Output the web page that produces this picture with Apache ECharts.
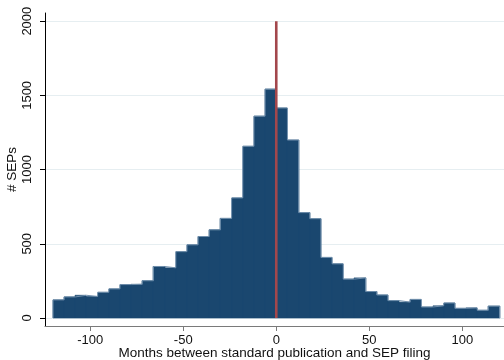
<!DOCTYPE html>
<html>
<head>
<meta charset="utf-8">
<script src="https://cdn.jsdelivr.net/npm/echarts@6/dist/echarts.min.js"></script>
<style>
  html, body { margin: 0; padding: 0; background: #fff; }
  #chart { width: 504px; height: 360px; }
</style>
</head>
<body>
<div id="chart"></div>
<script>
// histogram bins: left edge of each 6-month bin
var binStarts = [-120, -114, -108, -102, -96, -90, -84, -78, -72, -66,
                 -60, -54, -48, -42, -36, -30, -24, -18, -12, -6,
                 0, 6, 12, 18, 24, 30, 36, 42, 48, 54,
                 60, 66, 72, 78, 84, 90, 96, 102, 108, 114];
var binWidth = 6;
var counts = [122, 142, 153, 145, 173, 196, 225, 227, 251, 347,
              338, 447, 493, 549, 594, 671, 809, 1157, 1360, 1542,
              1415, 1199, 710, 669, 408, 365, 262, 270, 178, 155,
              117, 107, 125, 74, 82, 101, 65, 68, 52, 80];
var xTicks = [-100, -50, 0, 50, 100];
var yTicks = [0, 500, 1000, 1500, 2000];
var refLineX = 0;
var refLineY = [0, 2000];

var chart = echarts.init(document.getElementById('chart'));

var binData = binStarts.map(function (s, i) {
    return [s, s + binWidth, counts[i]];
});

// step outline over the bar tops
var outline = [[binStarts[0], 0]];
binStarts.forEach(function (s, i) {
    outline.push([s, counts[i]]);
});
var lastEnd = binStarts[binStarts.length - 1] + binWidth;
outline.push([lastEnd, counts[counts.length - 1]]);
outline.push([lastEnd, 0]);

var font = 'Liberation Sans, Arial, sans-serif';

var option = {
    backgroundColor: '#ffffff',
    animation: false,
    grid: {left: 45, right: 0, top: 13, bottom: 34, outerBoundsMode: 'none'},
    xAxis: {
        type: 'value',
        min: -124.3,
        max: 122.4,
        name: 'Months between standard publication and SEP filing',
        nameLocation: 'middle',
        nameGap: 20,
        nameMoveOverlap: false,
        nameTextStyle: {fontFamily: font, fontSize: 13.5, color: '#111'},
        axisLine: {show: true, onZero: false, lineStyle: {color: '#7a7a7a', width: 1.2}},
        axisTick: {show: true, length: 5, customValues: xTicks, lineStyle: {color: '#7a7a7a'}},
        axisLabel: {customValues: xTicks, margin: 8, fontFamily: font, fontSize: 13, color: '#111'},
        splitLine: {show: false}
    },
    yAxis: {
        type: 'value',
        min: -54,
        max: 2055,
        name: '# SEPs',
        nameLocation: 'middle',
        nameGap: 26,
        nameMoveOverlap: false,
        nameTextStyle: {fontFamily: font, fontSize: 13.5, color: '#111'},
        axisLine: {show: true, onZero: false, lineStyle: {color: '#000', width: 1}},
        axisTick: {show: true, length: 5, customValues: yTicks, lineStyle: {color: '#000'}},
        axisLabel: {
            customValues: yTicks, rotate: 90, margin: 11,
            fontFamily: font, fontSize: 13, color: '#111',
            formatter: function (v) { return String(v); }
        },
        splitLine: {show: true, lineStyle: {color: '#e6eef1', width: 1}}
    },
    series: [
        {
            type: 'custom',
            data: binData,
            encode: {x: [0, 1], y: 2},
            renderItem: function (params, api) {
                var top = api.coord([api.value(0), api.value(2)]);
                var bot = api.coord([api.value(1), 0]);
                var x0 = Math.round(top[0]), x1 = Math.round(bot[0]);
                return {
                    type: 'rect',
                    shape: {x: x0, y: top[1], width: x1 - x0, height: bot[1] - top[1]},
                    style: {fill: '#1a476f', stroke: '#1a476f', lineWidth: 0.6}
                };
            },
            z: 2
        },
        {
            type: 'line',
            data: outline,
            step: 'end',
            symbol: 'none',
            lineStyle: {color: '#6f8eab', width: 1},
            z: 3
        },
        {
            type: 'line',
            data: refLineY.map(function (v) { return [refLineX, v]; }),
            symbol: 'none',
            lineStyle: {color: '#a3474c', width: 2.6},
            z: 4
        }
    ]
};

chart.setOption(option);
</script>
</body>
</html>
